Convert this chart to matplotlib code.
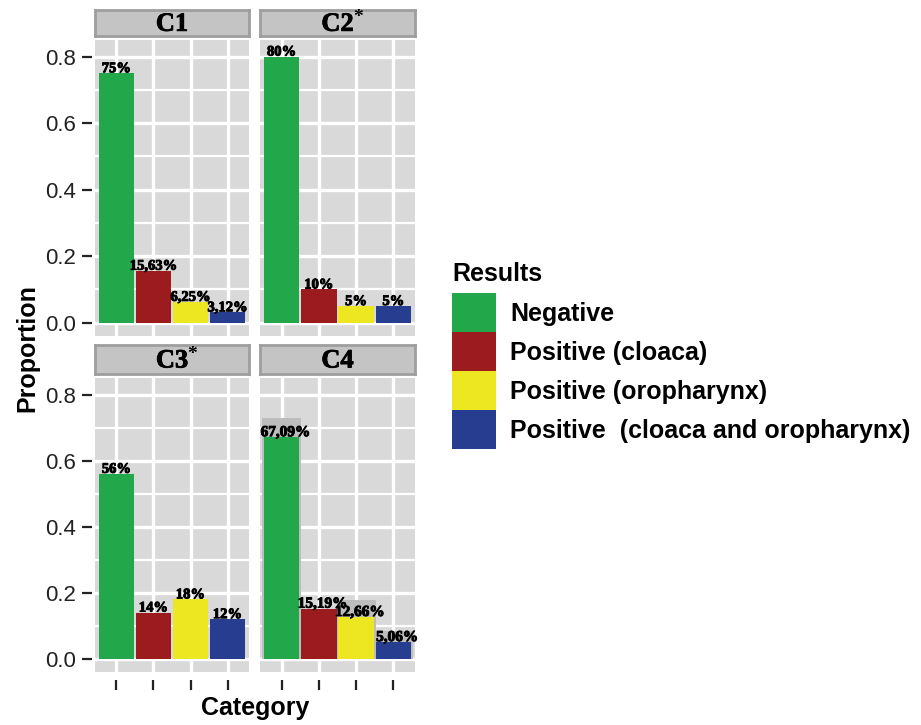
import matplotlib.pyplot as plt
import matplotlib.patheffects as pe
from matplotlib.patches import Patch

# Datos
categorias = ['Negative', 'Positive (cloaca)', 'Positive (oropharynx)',
              'Positive  (cloaca and oropharynx)']
colores = ['#22a84b', '#9c1b1f', '#ece720', '#263d90']
paneles = ['C1', 'C2', 'C3', 'C4']
asterisco = [False, True, True, False]

c1 = [0.75, 0.1563, 0.0625, 0.0312]
c2 = [0.80, 0.10, 0.05, 0.05]
c3 = [0.56, 0.14, 0.18, 0.12]
c4 = [0.6709, 0.1519, 0.1266, 0.0506]
valores = [c1, c2, c3, c4]

etiquetas_c1 = ['75%', '15,63%', '6,25%', '3,12%']
etiquetas_c2 = ['80%', '10%', '5%', '5%']
etiquetas_c3 = ['56%', '14%', '18%', '12%']
etiquetas_c4 = ['67,09%', '15,19%', '12,66%', '5,06%']
etiquetas = [etiquetas_c1, etiquetas_c2, etiquetas_c3, etiquetas_c4]

# sombra gris detras de las etiquetas de C4
sombra_c4 = [0.058, 0.0, 0.05, 0.035]

y_ticks = [0.0, 0.2, 0.4, 0.6, 0.8]

fig = plt.figure(figsize=(9.21, 7.25), dpi=100)

# posiciones de los paneles (figura)
pos = [[0.1031, 0.5366, 0.1673, 0.4083],
       [0.2823, 0.5366, 0.1683, 0.4083],
       [0.1031, 0.0731, 0.1673, 0.4055],
       [0.2823, 0.0731, 0.1683, 0.4055]]
pos_strip = [[0.1031, 0.9503, 0.1673, 0.0359],
             [0.2823, 0.9503, 0.1683, 0.0359],
             [0.1031, 0.4841, 0.1673, 0.0400],
             [0.2823, 0.4841, 0.1683, 0.0400]]

x = [1, 2, 3, 4]
trazo = [pe.withStroke(linewidth=0.7, foreground='black')]

for i in range(4):
    ax = fig.add_axes(pos[i])
    ax.set_facecolor('#d9d9d9')
    ax.set_axisbelow(True)
    ax.set_xlim(0.42, 4.58)
    ax.set_ylim(-0.04, 0.85)
    ax.set_yticks(y_ticks)
    ax.set_yticks([0.1, 0.3, 0.5, 0.7], minor=True)
    ax.set_xticks(x)
    ax.set_xticklabels([])
    ax.grid(True, which='major', color='white', linewidth=2.4)
    ax.grid(True, which='minor', axis='y', color='white', linewidth=1.6)
    for s in ax.spines.values():
        s.set_visible(False)
    ax.spines['bottom'].set_position(('outward', 6))
    ax.spines['left'].set_position(('outward', 2))
    ax.tick_params(axis='both', which='major', length=7, width=1.6, color='#222222')
    ax.tick_params(axis='y', which='minor', length=0)
    ax.tick_params(axis='y', labelsize=16, labelcolor='#222222', pad=5)
    for lab in ax.get_yticklabels():
        lab.set_fontfamily('Liberation Sans')
    if i in (1, 3):
        ax.set_yticklabels([])
        ax.tick_params(axis='y', length=0)
    else:
        ax.set_yticklabels(['%.1f' % t for t in y_ticks])
    if i < 2:
        ax.tick_params(axis='x', length=0)

    if i == 3:
        ax.bar(x, [v + s for v, s in zip(valores[i], sombra_c4)], width=1.05,
               color='#bdbdbd', zorder=2)
    ax.bar(x, valores[i], width=0.95, color=colores, zorder=3)

    tam = 11 if i == 3 else 10.5
    dx = 0.1 if i == 3 else 0.0
    for xx, v, t in zip(x, valores[i], etiquetas[i]):
        ax.text(xx + dx, v - 0.006, t, ha='center', va='bottom', fontsize=tam,
                fontfamily='Liberation Serif', fontweight='bold', color='black',
                zorder=4, path_effects=trazo)

    # franja con el nombre del panel
    st = fig.add_axes(pos_strip[i])
    st.set_facecolor('#c4c4c4')
    st.set_xticks([])
    st.set_yticks([])
    for s in st.spines.values():
        s.set_color('#9e9e9e')
        s.set_linewidth(2)
    st.text(0.5, 0.45, paneles[i], ha='center', va='center', fontsize=19,
            fontfamily='Liberation Serif', fontweight='bold', transform=st.transAxes,
            path_effects=[pe.withStroke(linewidth=0.6, foreground='black')])
    if asterisco[i]:
        st.annotate('*', xy=(0.5, 0.45), xycoords='axes fraction',
                    xytext=(14.5, 5), textcoords='offset points',
                    ha='center', va='center', fontsize=14,
                    fontfamily='Liberation Serif', fontweight='bold')

fig.text(0.030, 0.52, 'Proportion', rotation=90, ha='center', va='center',
         fontsize=18, fontweight='bold', fontfamily='Liberation Sans')
fig.text(0.277, 0.0234, 'Category', ha='center', va='center',
         fontsize=18, fontweight='bold', fontfamily='Liberation Sans')

manejadores = [Patch(facecolor=c, edgecolor='none') for c in colores]
leg = fig.legend(manejadores, categorias, title='Results', loc='upper left',
                 bbox_to_anchor=(0.4908, 0.638), frameon=False,
                 prop={'family': 'Liberation Sans', 'weight': 'bold', 'size': 18},
                 title_fontproperties={'family': 'Liberation Sans', 'weight': 'bold', 'size': 18},
                 handlelength=1.76, handleheight=2.02, labelspacing=0.0,
                 handletextpad=0.56, borderpad=0, borderaxespad=0, alignment='left')
# separacion entre titulo y claves
leg._legend_box.sep = 5

plt.savefig('out.png', dpi=100)
